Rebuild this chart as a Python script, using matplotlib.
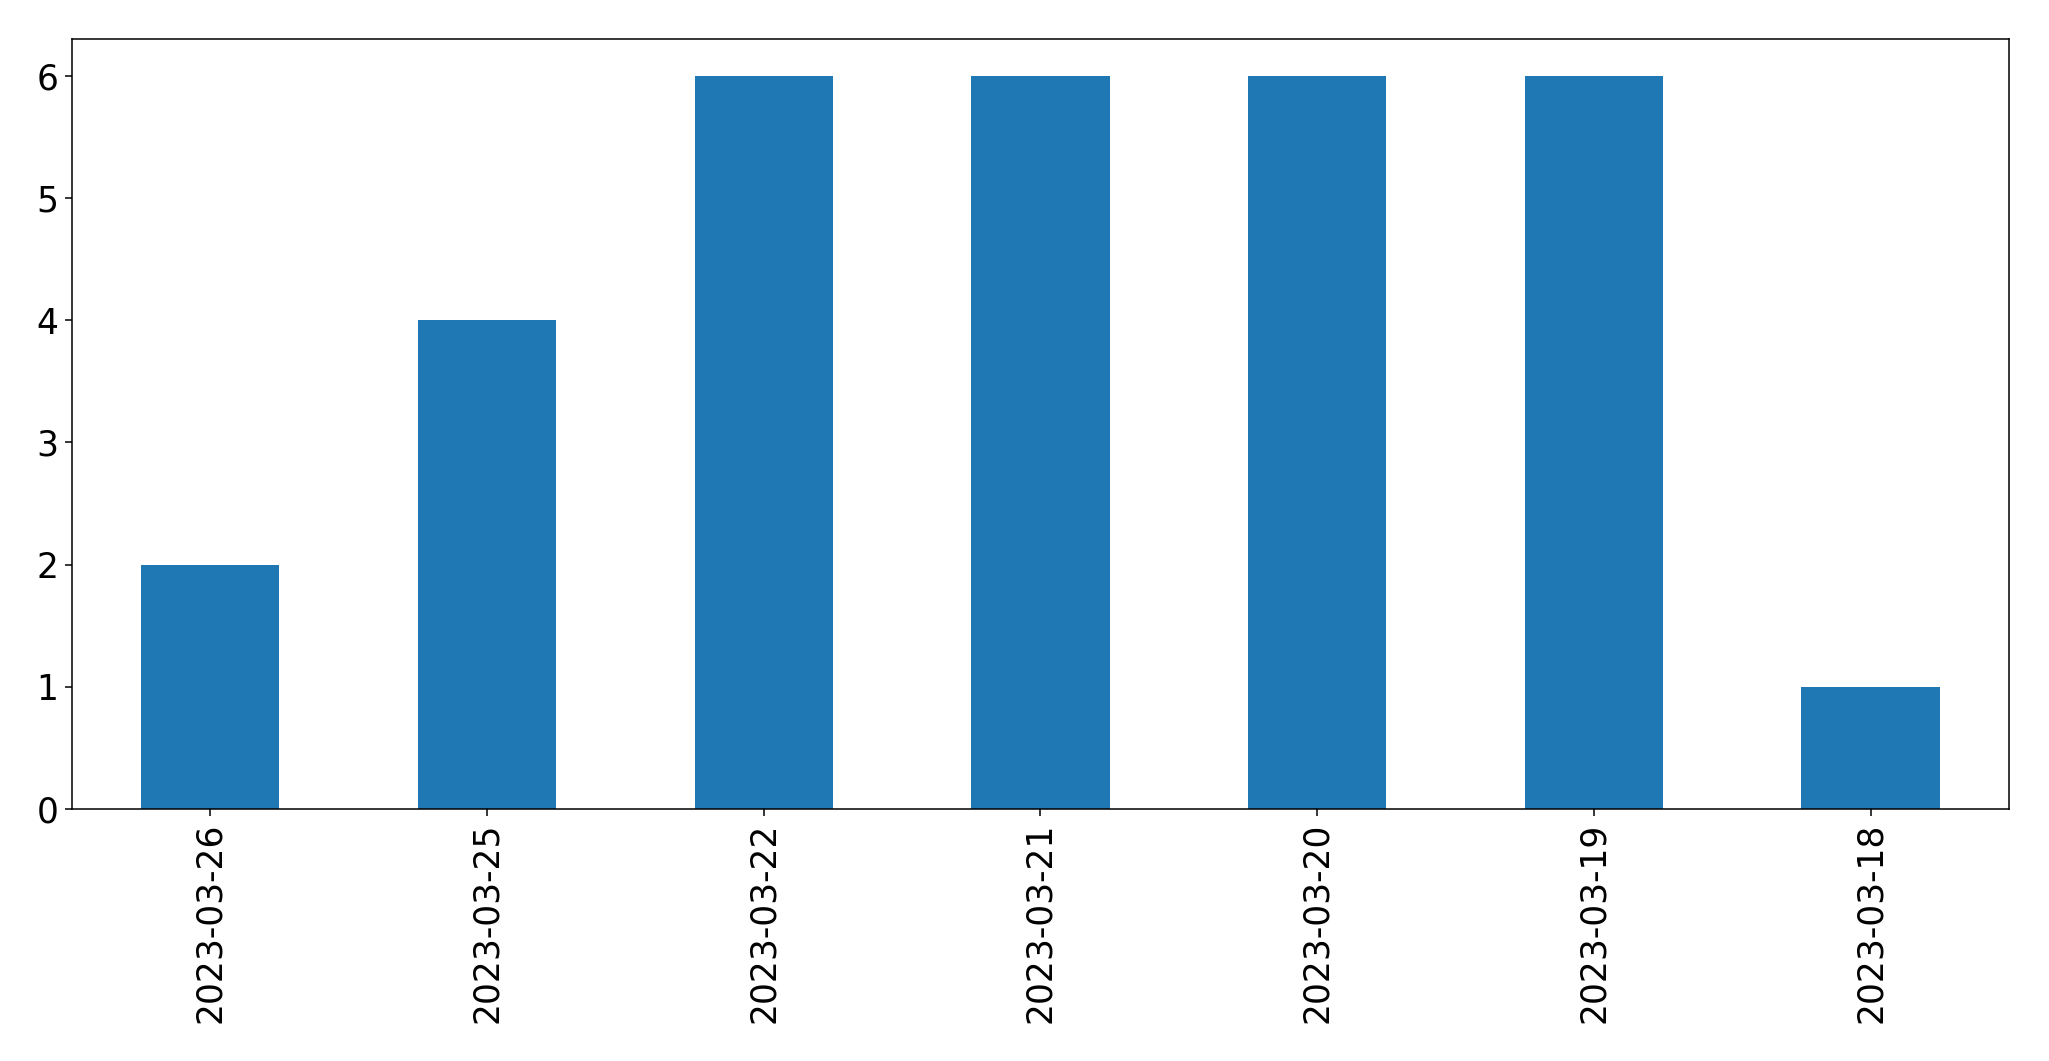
import matplotlib
matplotlib.use("Agg")
from matplotlib import pyplot as plt
import pandas as pd

# data
dates = ['2023-03-26', '2023-03-25', '2023-03-22', '2023-03-21',
         '2023-03-20', '2023-03-19', '2023-03-18']
counts = [2, 4, 6, 6, 6, 6, 1]

DPI = 138
fig, ax = plt.subplots(figsize=(2049 / DPI, 1061 / DPI), dpi=DPI)
fig.subplots_adjust(left=0.0351, right=0.9805, bottom=0.2375, top=0.9632)

s = pd.Series(counts, index=dates)
s.plot(kind='bar', ax=ax, fontsize=18, color='#1f77b4')

fig.savefig('out.png', dpi=DPI)
